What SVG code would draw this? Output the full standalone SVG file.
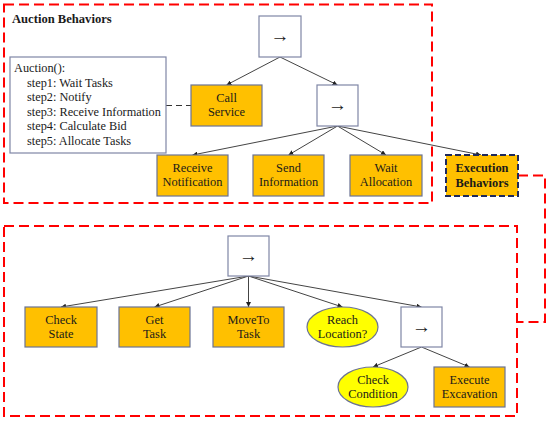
<svg xmlns="http://www.w3.org/2000/svg" width="550" height="421" viewBox="0 0 550 421">
<defs>
<marker id="ah" markerUnits="userSpaceOnUse" markerWidth="6" markerHeight="5" refX="5" refY="2.5" orient="auto">
<path d="M0,0 L5,2.5 L0,5 z" fill="#222"/>
</marker>
<style>
.grp{fill:none;stroke:#ff0000;stroke-width:2;stroke-dasharray:10,5}
.act{fill:#ffc000;stroke:#6b7394;stroke-width:1.2}
.seq{fill:#ffffff;stroke:#7f86a6;stroke-width:1.2}
.cond{fill:#ffff00;stroke:#6b7394;stroke-width:1.2}
.note{fill:#ffffff;stroke:#7f86a6;stroke-width:1.2}
.t{font-family:"Liberation Serif","Times New Roman",serif;font-size:12.4px;fill:#1a1a1a;text-anchor:middle}
.tl{font-family:"Liberation Serif","Times New Roman",serif;font-size:12.3px;fill:#1a1a1a}
.tb{font-family:"Liberation Serif","Times New Roman",serif;font-size:12.6px;font-weight:bold;fill:#1a1a1a}
.arr{font-family:"Liberation Serif","DejaVu Serif",serif;font-size:19px;fill:#1a1a1a;text-anchor:middle}
.ln{stroke:#444;stroke-width:1;fill:none;marker-end:url(#ah)}
</style>
</defs>
<rect width="550" height="421" fill="#ffffff"/>

<g id="auction-group">
<rect class="grp" x="4" y="4.5" width="428" height="198.5"/>
<text class="tb" x="12" y="23">Auction Behaviors</text>
</g>
<g id="execution-group">
<rect class="grp" x="4" y="226" width="513" height="190"/>
</g>

<g id="connectors">
<line class="ln" x1="280" y1="57" x2="226.5" y2="85"/>
<line class="ln" x1="280" y1="57" x2="337.5" y2="85"/>
<line class="ln" x1="337.5" y1="126" x2="192.5" y2="155"/>
<line class="ln" x1="337.5" y1="126" x2="288.5" y2="155"/>
<line class="ln" x1="337.5" y1="126" x2="386" y2="155"/>
<line class="ln" x1="337.5" y1="126" x2="481" y2="155"/>
<line x1="166" y1="105.5" x2="191" y2="105.5" stroke="#333" stroke-width="1" stroke-dasharray="6,4"/>
<polyline class="grp" points="518,175.5 545,175.5 545,322 517,322"/>
<line class="ln" x1="248.5" y1="276" x2="61" y2="307"/>
<line class="ln" x1="248.5" y1="276" x2="154.5" y2="307"/>
<line class="ln" x1="248.5" y1="276" x2="248.5" y2="307"/>
<line class="ln" x1="248.5" y1="276" x2="342.5" y2="307"/>
<line class="ln" x1="248.5" y1="276" x2="421.5" y2="307"/>
<line class="ln" x1="421.5" y1="347" x2="373" y2="367"/>
<line class="ln" x1="421.5" y1="347" x2="469.5" y2="367"/>
</g>

<g id="seq1"><rect class="seq" x="259" y="16" width="42" height="41"/><text class="arr" x="280" y="42">→</text></g>
<g id="seq2"><rect class="seq" x="317" y="85" width="41" height="41"/><text class="arr" x="337.5" y="111">→</text></g>

<g id="auction-note">
<rect class="note" x="10" y="57" width="156" height="96"/>
<text class="tl" x="14" y="72">Auction():</text>
<text class="tl" x="27" y="86.5">step1: Wait Tasks</text>
<text class="tl" x="27" y="101">step2: Notify</text>
<text class="tl" x="27" y="115.5">step3: Receive Information</text>
<text class="tl" x="27" y="130">step4: Calculate Bid</text>
<text class="tl" x="27" y="144.5">step5: Allocate Tasks</text>
</g>

<g id="call-service"><rect class="act" x="191" y="85" width="71" height="41"/><text class="t" x="226.5" y="102">Call</text><text class="t" x="226.5" y="116">Service</text></g>
<g id="receive-notification"><rect class="act" x="157" y="155" width="71" height="41"/><text class="t" x="192.5" y="172">Receive</text><text class="t" x="192.5" y="186">Notification</text></g>
<g id="send-information"><rect class="act" x="253" y="155" width="71" height="41"/><text class="t" x="288.5" y="172">Send</text><text class="t" x="288.5" y="186">Information</text></g>
<g id="wait-allocation"><rect class="act" x="350" y="155" width="72" height="41"/><text class="t" x="386" y="172">Wait</text><text class="t" x="386" y="186">Allocation</text></g>
<g id="execution-behaviors"><rect x="446" y="155" width="72" height="41" fill="#ffc000" stroke="#1f2a5c" stroke-width="2" stroke-dasharray="6,3"/><text class="t" x="482" y="172" font-weight="bold">Execution</text><text class="t" x="482" y="187" font-weight="bold">Behaviors</text></g>

<g id="seq3"><rect class="seq" x="228" y="236" width="41" height="40"/><text class="arr" x="248.5" y="261.5">→</text></g>
<g id="check-state"><rect class="act" x="25" y="307" width="72" height="40"/><text class="t" x="61" y="323.5">Check</text><text class="t" x="61" y="337.5">State</text></g>
<g id="get-task"><rect class="act" x="119" y="307" width="71" height="40"/><text class="t" x="154.5" y="323.5">Get</text><text class="t" x="154.5" y="337.5">Task</text></g>
<g id="moveto-task"><rect class="act" x="213" y="307" width="71" height="40"/><text class="t" x="248.5" y="323.5">MoveTo</text><text class="t" x="248.5" y="337.5">Task</text></g>
<g id="reach-location"><ellipse class="cond" cx="342.5" cy="327" rx="35.5" ry="20"/><text class="t" x="342.5" y="323.5">Reach</text><text class="t" x="342.5" y="337.5">Location?</text></g>
<g id="seq4"><rect class="seq" x="401" y="307" width="41" height="40"/><text class="arr" x="421.5" y="332.5">→</text></g>
<g id="check-condition"><ellipse class="cond" cx="373" cy="387" rx="35" ry="20"/><text class="t" x="373" y="383.5">Check</text><text class="t" x="373" y="397.5">Condition</text></g>
<g id="execute-excavation"><rect class="act" x="434" y="367" width="71" height="40"/><text class="t" x="469.5" y="383.5">Execute</text><text class="t" x="469.5" y="397.5">Excavation</text></g>
</svg>
